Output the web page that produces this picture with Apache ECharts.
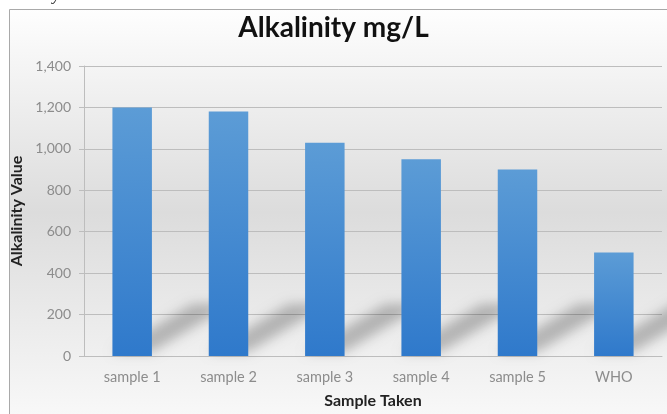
<!DOCTYPE html>
<html>
<head>
<meta charset="utf-8">
<script src="https://cdn.jsdelivr.net/npm/echarts@6/dist/echarts.min.js"></script>
<style>
html,body{margin:0;padding:0;background:#fff;}
#chart{width:667px;height:414px;}
</style>
</head>
<body>
<div id="chart"></div>
<script>
var chartTitle = 'Alkalinity mg/L';
var categories = ['sample 1', 'sample 2', 'sample 3', 'sample 4', 'sample 5', 'WHO'];
var alkalinity = [1200, 1180, 1030, 950, 900, 500];
var yTicks = [0, 200, 400, 600, 800, 1000, 1200, 1400];
var xAxisName = 'Sample Taken';
var yAxisName = 'Alkalinity Value';

var FONT = 'Lato';
var OFF = 3000;
var chart = echarts.init(document.getElementById('chart'), null, {renderer: 'canvas'});

var option = {
  animation: false,
  backgroundColor: '#ffffff',
  graphic: [
    {
      type: 'rect', z: -10, silent: true,
      shape: {x: 9.5, y: 9.5, width: 670, height: 406},
      style: {
        fill: new echarts.graphic.LinearGradient(0, 0, 0, 1, [
          {offset: 0, color: '#fefefe'},
          {offset: 0.5, color: '#dcdcdc'},
          {offset: 1, color: '#f8f8f8'}
        ]),
        stroke: '#a9a9a9', lineWidth: 1
      }
    },
    {
      type: 'text', z: 10, silent: true,
      left: -6, top: -13,
      style: {text: 'Alkalinity', font: 'italic 17px "Liberation Serif"', fill: '#222'}
    }
  ],
  title: {
    text: chartTitle,
    left: 'center',
    top: 9,
    textStyle: {fontFamily: FONT, fontWeight: 'bold', fontSize: 28, color: '#111'}
  },
  grid: {left: 84, right: 5, top: 66, bottom: 54.5, containLabel: false},
  xAxis: {
    type: 'category',
    data: categories,
    name: xAxisName,
    nameLocation: 'middle',
    nameGap: 37,
    nameTextStyle: {fontFamily: FONT, fontWeight: 'bold', fontSize: 16, color: '#222'},
    axisLine: {show: true, lineStyle: {color: '#bdbdbd', width: 1}},
    axisTick: {show: false},
    axisLabel: {fontFamily: FONT, fontSize: 14.5, color: '#8c8c8c', margin: 14}
  },
  yAxis: {
    type: 'value',
    min: yTicks[0],
    max: yTicks[yTicks.length - 1],
    interval: yTicks[1] - yTicks[0],
    name: yAxisName,
    nameLocation: 'middle',
    nameGap: 51,
    nameTextStyle: {fontFamily: FONT, fontWeight: 'bold', fontSize: 16, color: '#222'},
    axisLine: {show: true, lineStyle: {color: '#bdbdbd', width: 1}},
    axisTick: {show: true, length: 5, lineStyle: {color: '#bdbdbd'}},
    splitLine: {show: true, lineStyle: {color: '#bdbdbd', width: 1}},
    axisLabel: {
      fontFamily: FONT, fontSize: 14, color: '#8c8c8c', margin: 13,
      formatter: function (v) { return v.toLocaleString('en-US'); }
    }
  },
  series: [
    {
      type: 'custom',
      z: 1,
      silent: true,
      clip: false,
      data: alkalinity.map(function (v, i) { return [i, v]; }),
      renderItem: function (params, api) {
        var base = api.coord([api.value(0), 0]);
        var bw = api.size([1, 0])[0] * 0.41;
        var xL = base[0] - bw / 2 + OFF, xR = base[0] + bw / 2 + OFF, y0 = base[1] - 4;
        var dx = 80, dy = 48;
        return {
          type: 'polygon',
          shape: {points: [[xL, y0], [xR, y0], [xR + dx, y0 - dy], [xL + dx, y0 - dy]]},
          style: {
            fill: '#000',
            shadowBlur: 12,
            shadowColor: 'rgba(0,0,0,0.24)',
            shadowOffsetX: -OFF,
            shadowOffsetY: 0
          }
        };
      }
    },
    {
      type: 'bar',
      z: 3,
      data: alkalinity,
      barWidth: '41%',
      itemStyle: {
        color: new echarts.graphic.LinearGradient(0, 0, 0, 1, [
          {offset: 0, color: '#5c9cd6'},
          {offset: 1, color: '#2f79cb'}
        ])
      }
    }
  ]
};
chart.setOption(option);
</script>
</body>
</html>
